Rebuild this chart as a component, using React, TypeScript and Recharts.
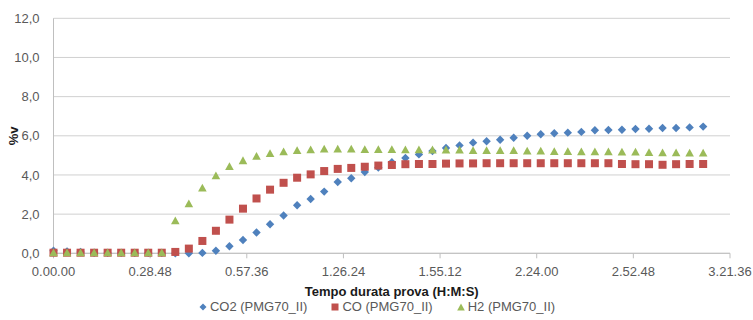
import React from 'react';
import { ScatterChart, Scatter, XAxis, YAxis, CartesianGrid, Legend } from 'recharts';

// Sample times (seconds from test start)
const timeSeconds = [
  0, 242, 484, 726, 968, 1210, 1452, 1694, 1936, 2178,
  2420, 2662, 2904, 3146, 3388, 3630, 3872, 4114, 4356, 4598,
  4840, 5082, 5324, 5566, 5808, 6050, 6292, 6534, 6776, 7018,
  7260, 7502, 7744, 7986, 8228, 8470, 8712, 8954, 9196, 9438,
  9680, 9922, 10164, 10406, 10648, 10890, 11132, 11374, 11616,
];

const co2Values = [
  0.13, 0.1, 0.07, 0.03, 0.02, 0.02, 0.02, 0.02, 0.02, 0.0,
  0.0, 0.02, 0.13, 0.36, 0.68, 1.06, 1.48, 1.93, 2.45, 2.77,
  3.15, 3.64, 3.83, 4.15, 4.38, 4.65, 4.87, 5.05, 5.22, 5.38,
  5.51, 5.65, 5.72, 5.8, 5.9, 6.0, 6.08, 6.13, 6.16, 6.2,
  6.28, 6.3, 6.31, 6.35, 6.36, 6.4, 6.4, 6.43, 6.47,
];

const coValues = [
  0.03, 0.03, 0.03, 0.03, 0.03, 0.03, 0.03, 0.03, 0.03, 0.07,
  0.24, 0.63, 1.15, 1.72, 2.28, 2.8, 3.25, 3.6, 3.86, 4.03,
  4.2, 4.31, 4.36, 4.42, 4.48, 4.51, 4.55, 4.56, 4.56, 4.58,
  4.59, 4.59, 4.6, 4.6, 4.6, 4.6, 4.6, 4.6, 4.6, 4.6,
  4.6, 4.6, 4.56, 4.55, 4.55, 4.52, 4.55, 4.56, 4.56,
];

const h2Values = [
  0.02, 0.02, 0.02, 0.02, 0.02, 0.02, 0.02, 0.02, 0.02, 1.65,
  2.52, 3.32, 3.95, 4.42, 4.72, 4.94, 5.08, 5.17, 5.24, 5.28,
  5.31, 5.31, 5.31, 5.29, 5.29, 5.29, 5.28, 5.28, 5.27, 5.27,
  5.26, 5.24, 5.24, 5.24, 5.24, 5.21, 5.21, 5.19, 5.19, 5.17,
  5.17, 5.17, 5.16, 5.16, 5.14, 5.12, 5.12, 5.11, 5.11,
];

const xTickSeconds = [0, 1728, 3456, 5184, 6912, 8640, 10368, 12096];
const xTickLabels = ['0.00.00', '0.28.48', '0.57.36', '1.26.24', '1.55.12', '2.24.00', '2.52.48', '3.21.36'];
const yTicks = [0, 2, 4, 6, 8, 10, 12];

const seriesNames = ['CO2 (PMG70_II)', 'CO (PMG70_II)', 'H2 (PMG70_II)'];
const seriesColors = ['#4F81BD', '#C0504D', '#9BBB59'];
const seriesShapes = ['diamond', 'square', 'triangle'];

const FONT = '"Liberation Sans", Arial, sans-serif';

const toData = (vals: number[]) => timeSeconds.map((t, i) => ({ t, v: vals[i] }));
const seriesData = [toData(co2Values), toData(coValues), toData(h2Values)];

const DiamondShape = (p: any) => {
  const { cx, cy, fill } = p;
  const r = 4.2;
  return <polygon points={`${cx},${cy - r} ${cx + r},${cy} ${cx},${cy + r} ${cx - r},${cy}`} fill={fill} />;
};
const SquareShape = (p: any) => {
  const { cx, cy, fill } = p;
  const r = 4;
  return <rect x={cx - r} y={cy - r} width={2 * r} height={2 * r} fill={fill} />;
};
const TriangleShape = (p: any) => {
  const { cx, cy, fill } = p;
  return <polygon points={`${cx},${cy - 4.5} ${cx + 4.3},${cy + 3.3} ${cx - 4.3},${cy + 3.3}`} fill={fill} />;
};
const shapeFor = (s: string) => (s === 'diamond' ? DiamondShape : s === 'square' ? SquareShape : TriangleShape);

const LegendIcon = ({ shape, color }: { shape: string; color: string }) => (
  <svg width={8} height={8} style={{ display: 'block' }}>
    {shape === 'diamond' && <polygon points="4,0.5 7.5,4 4,7.5 0.5,4" fill={color} />}
    {shape === 'square' && <rect x={0.5} y={0.5} width={7} height={7} fill={color} />}
    {shape === 'triangle' && <polygon points="4,0.5 7.8,7.5 0.2,7.5" fill={color} />}
  </svg>
);

const LegendContent = () => (
  <div
    style={{
      display: 'flex',
      justifyContent: 'center',
      alignItems: 'center',
      height: 16,
      paddingLeft: 24,
      fontFamily: FONT,
      fontSize: 13,
      lineHeight: '13px',
      color: '#595959',
      whiteSpace: 'nowrap',
    }}
  >
    {seriesNames.map((name, i) => (
      <div key={name} style={{ display: 'flex', alignItems: 'center', marginLeft: i ? 24 : 0 }}>
        <LegendIcon shape={seriesShapes[i]} color={seriesColors[i]} />
        <span style={{ marginLeft: 3 }}>{name}</span>
      </div>
    ))}
  </div>
);

const fmtX = (v: number) => {
  const i = xTickSeconds.indexOf(v);
  return i >= 0 ? xTickLabels[i] : '';
};
const fmtY = (v: number) => v.toFixed(1).replace('.', ',');

export default function App() {
  return (
    <div style={{ position: 'absolute', left: 0, top: 0, width: 753, height: 320 }}>
      <ScatterChart width={753} height={320} margin={{ top: 18.3, right: 23, left: 0, bottom: 5.5 }}>
        <CartesianGrid vertical={false} stroke="#D0D0D0" />
        <XAxis
          type="number"
          dataKey="t"
          domain={[0, 12096]}
          ticks={xTickSeconds}
          interval={0}
          tickFormatter={fmtX}
          height={45.2}
          tickSize={5}
          tickMargin={8}
          axisLine={{ stroke: '#BFBFBF' }}
          tickLine={{ stroke: '#BFBFBF' }}
          tick={{ fill: '#595959', fontSize: 13, fontFamily: FONT }}
          label={{
            value: 'Tempo durata prova (H:M:S)',
            position: 'insideBottom',
            offset: 2.5,
            fill: '#1a1a1a',
            fontSize: 13,
            fontWeight: 'bold',
            fontFamily: FONT,
          }}
        />
        <YAxis
          type="number"
          dataKey="v"
          domain={[0, 12]}
          ticks={yTicks}
          interval={0}
          tickFormatter={fmtY}
          width={53.5}
          tickLine={false}
          tickSize={0}
          tickMargin={14}
          axisLine={{ stroke: '#BFBFBF' }}
          tick={{ fill: '#595959', fontSize: 13, fontFamily: FONT }}
          label={{
            content: () => (
              <text
                x={14}
                y={135.8}
                transform="rotate(-90, 14, 135.8)"
                textAnchor="middle"
                dominantBaseline="central"
                fontWeight="bold"
                fontSize={13}
                fill="#1a1a1a"
                fontFamily={FONT}
              >
                %v
              </text>
            ),
          }}
        />
        <Legend verticalAlign="bottom" content={LegendContent} />
        {seriesNames.map((name, i) => (
          <Scatter
            key={name}
            name={name}
            data={seriesData[i]}
            fill={seriesColors[i]}
            shape={shapeFor(seriesShapes[i])}
            isAnimationActive={false}
          />
        ))}
      </ScatterChart>
    </div>
  );
}
